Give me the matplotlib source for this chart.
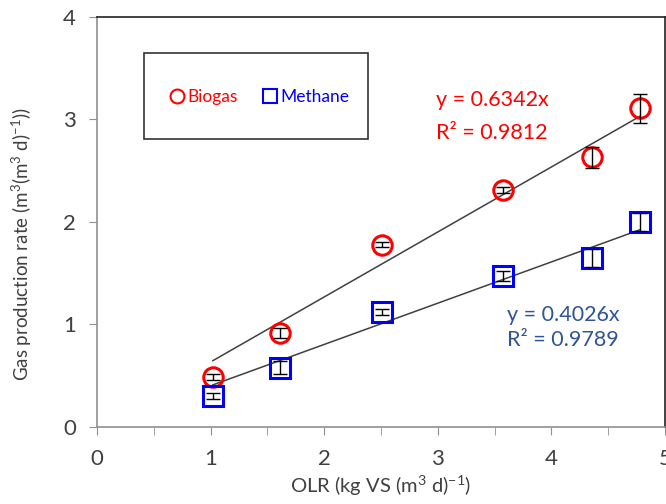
import matplotlib
matplotlib.use("Agg")
import matplotlib.pyplot as plt
from matplotlib.lines import Line2D
from matplotlib.patches import Rectangle
import numpy as np

plt.rcParams['font.family'] = ['Lato', 'DejaVu Sans']
plt.rcParams['mathtext.fontset'] = 'custom'
plt.rcParams['mathtext.rm'] = 'Lato'
plt.rcParams['mathtext.it'] = 'Lato:italic'

# data
olr = [1.02, 1.61, 2.51, 3.57, 4.36, 4.78]
biogas = [0.49, 0.92, 1.78, 2.31, 2.63, 3.11]
biogas_err = [0.03, 0.05, 0.02, 0.03, 0.10, 0.14]
methane = [0.30, 0.58, 1.12, 1.47, 1.65, 2.00]
methane_err = [0.03, 0.06, 0.03, 0.05, 0.09, 0.09]
slope_biogas = 0.6342
slope_methane = 0.4026
r2_biogas = 0.9812
r2_methane = 0.9789

fig = plt.figure(figsize=(6.66, 5.04), dpi=100)
ax = fig.add_axes([0.1456, 0.1528, 0.8529, 0.8135])

# trend lines
xfit = np.array([olr[0], olr[-1]])
ax.plot(xfit, slope_biogas * xfit, color='#404040', lw=1.1, zorder=2)
ax.plot(xfit, slope_methane * xfit, color='#404040', lw=1.1, zorder=2)

ax.plot(olr, biogas, 'o', ms=14, mfc='none', mec='#ff0000', mew=2.2, zorder=3)
ax.plot(olr, methane, 's', ms=15, mfc='none', mec='#0000ff', mew=2.2, zorder=3)
ax.errorbar(olr, biogas, yerr=biogas_err, fmt='none', ecolor='black', elinewidth=1, capsize=5, zorder=4)
ax.errorbar(olr, methane, yerr=methane_err, fmt='none', ecolor='black', elinewidth=1, capsize=5, zorder=4)

ax.set_xlim(0, 5)
ax.set_ylim(0, 4)
ax.set_xticks([0, 1, 2, 3, 4, 5])
ax.set_xticks(np.arange(0.5, 5, 1.0), minor=True)
ax.set_yticks([0, 1, 2, 3, 4])
ax.tick_params(axis='both', which='both', direction='out', length=6, color='#909090',
               labelsize=16, labelcolor='#404040')
ax.tick_params(axis='x', pad=10)
ax.tick_params(axis='y', pad=9)

for s in ['left', 'bottom']:
    ax.spines[s].set_color('#909090')
    ax.spines[s].set_linewidth(1.2)
for s in ['top', 'right']:
    ax.spines[s].set_color('#222222')
    ax.spines[s].set_linewidth(1.2)

ax.set_xlabel(r'OLR (kg VS (m$^3$ d)$^{-1}$)', fontsize=14.5, color='#404040', labelpad=3)
ax.set_ylabel(r'Gas production rate (m$^3$(m$^3$ d)$^{-1}$))', fontsize=13.5, color='#404040')
ax.yaxis.set_label_coords(-0.11, 0.445)

ax.text(2.98, 3.19, 'y = %.4fx' % slope_biogas, color='#ff0000', fontsize=15.5, va='center')
ax.text(2.98, 2.87, 'R² = %.4f' % r2_biogas, color='#ff0000', fontsize=15.5, va='center')
ax.text(3.61, 1.09, 'y = %.4fx' % slope_methane, color='#2f5597', fontsize=15.5, va='center')
ax.text(3.61, 0.85, 'R² = %.4f' % r2_methane, color='#2f5597', fontsize=15.5, va='center')

# legend box
ax.add_patch(Rectangle((0.0827, 0.702), 0.3945, 0.21, transform=ax.transAxes,
                       fill=False, edgecolor='#333333', lw=1.2, zorder=5))
handles = [Line2D([], [], marker='o', ls='none', ms=10, mfc='none', mec='#ff0000', mew=1.5),
           Line2D([], [], marker='s', ls='none', ms=10, mfc='none', mec='#0000ff', mew=1.5)]
ax.legend(handles, ['Biogas', 'Methane'], loc='center', bbox_to_anchor=(0.285, 0.805),
          ncol=2, frameon=False, fontsize=12.5, labelcolor=['#ff0000', '#0000ff'],
          handletextpad=0.1, columnspacing=1.4, handlelength=1.0)

fig.savefig('out.png', dpi=100)
